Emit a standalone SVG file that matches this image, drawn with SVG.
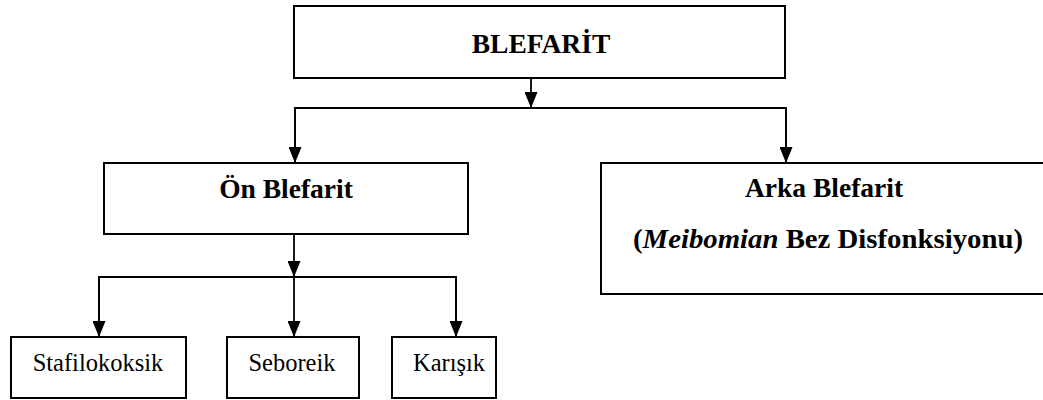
<svg xmlns="http://www.w3.org/2000/svg" width="1043" height="400" viewBox="0 0 1043 400">
<defs>
<marker id="arr" viewBox="0 0 16 13" refX="16" refY="6.5" markerWidth="16" markerHeight="13" markerUnits="userSpaceOnUse" orient="auto">
<path d="M0,0 L16,6.5 L0,13 Z" fill="#000"/>
</marker>
</defs>
<style>
.box{fill:#fff;stroke:#000;stroke-width:2}
.b{font-family:"Liberation Serif","Times New Roman",serif;font-weight:bold;font-size:27.5px;text-anchor:middle;fill:#000}
.r{font-family:"Liberation Serif","Times New Roman",serif;font-size:24.5px;text-anchor:middle;fill:#000}
.c{fill:none;stroke:#000;stroke-width:1.8}
</style>
<rect width="1043" height="400" fill="#fff"/>
<g id="connectors">
<line class="c" x1="531" y1="78" x2="531" y2="108" marker-end="url(#arr)"/>
<polyline class="c" points="295,163 295,108 786,108 786,163"/>
<line class="c" x1="295" y1="108" x2="295" y2="163" marker-end="url(#arr)"/>
<line class="c" x1="786" y1="108" x2="786" y2="163" marker-end="url(#arr)"/>
<line class="c" x1="294" y1="231" x2="294" y2="277" marker-end="url(#arr)"/>
<polyline class="c" points="99,337 99,277 456,277 456,337"/>
<line class="c" x1="99" y1="277" x2="99" y2="337" marker-end="url(#arr)"/>
<line class="c" x1="294" y1="277" x2="294" y2="337" marker-end="url(#arr)"/>
<line class="c" x1="456" y1="277" x2="456" y2="337" marker-end="url(#arr)"/>
</g>
<g id="blefarit">
<rect class="box" x="294" y="6" width="491" height="72"/>
<text class="b" x="541" y="53">BLEFARİT</text>
</g>
<g id="on-blefarit">
<rect class="box" x="104" y="163" width="364" height="71"/>
<text class="b" x="286" y="198">Ön Blefarit</text>
</g>
<g id="arka-blefarit">
<rect class="box" x="601" y="163" width="444" height="131"/>
<text class="b" x="824" y="197">Arka Blefarit</text>
<text class="b" x="828" y="248" textLength="390" lengthAdjust="spacingAndGlyphs">(<tspan font-style="italic">Meibomian</tspan> Bez Disfonksiyonu)</text>
</g>
<g id="stafilokoksik">
<rect class="box" x="11" y="337" width="175" height="61"/>
<text class="r" x="98" y="371">Stafilokoksik</text>
</g>
<g id="seboreik">
<rect class="box" x="227" y="337" width="132" height="61"/>
<text class="r" x="292" y="371">Seboreik</text>
</g>
<g id="karisik">
<rect class="box" x="392" y="337" width="104" height="61"/>
<text class="r" x="449" y="371">Karışık</text>
</g>
</svg>
